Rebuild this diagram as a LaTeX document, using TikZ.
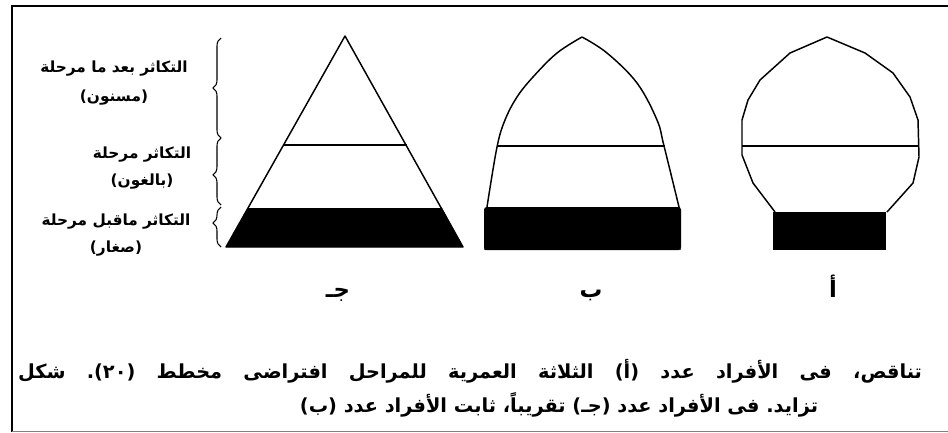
\documentclass[tikz,border=0pt]{standalone}
\usepackage{fontspec}
\usepackage{tikz}
\usetikzlibrary{positioning,decorations.pathreplacing}
\TeXXeTstate=1
\newfontfamily\arabicfont[Script=Arabic]{DejaVu Sans}

\begin{document}
\begin{tikzpicture}[x=0.75pt, y=-0.75pt,
    outline/.style={draw=black, line width=1.1pt, line join=round},
    band/.style={fill=black},
    stage/.style={font=\arabicfont\bfseries\fontsize{11.5}{20}\selectfont, align=center, inner sep=0pt},
    bracket/.style={decorate, decoration={brace, amplitude=6pt}, line width=0.8pt},
    tag/.style={font=\arabicfont\bfseries\fontsize{17}{19}\selectfont, inner sep=0pt, anchor=base},
    caption/.style={font=\arabicfont\bfseries\fontsize{14.5}{18}\selectfont\frenchspacing, inner sep=0pt}
]
    \useasboundingbox (0,0) rectangle (948,432);

    % Frame
    \draw[line width=2.2pt] (12,432) -- (12,6) -- (948,6);
    \draw[gray, line width=1pt] (12,431.5) -- (948,431.5);

    % Pyramid (jeem)
    \fill[band] (248,208) -- (442,208) -- (463,247) -- (226,247) -- cycle;
    \draw[outline] (345,36) -- (463,247) -- (226,247) -- cycle;
    \draw[outline, line width=0.8pt] (283,145) -- (407,145);

    % Bell (baa)
    \fill[band, rounded corners=2pt] (484,207) rectangle (681,250);
    \draw[outline] (485,250) -- (487,207)
        plot[smooth, tension=0.6] coordinates {(487,207) (497,147) (505,120) (517,97) (533,77) (557,53) (582,37)}
        plot[smooth, tension=0.6] coordinates {(582,37) (607,53) (637,83) (657,120) (664,146) (679,207)}
        -- (680,250);
    \draw[outline, line width=0.8pt] (498,146) -- (665,146);

    % Bulb (alif)
    \fill[band] (773,212) rectangle (886,250);
    \draw[outline] (775,212) -- (753,183) -- (742,155) -- (742,120) -- (748,100) -- (760,80)
        -- (790,53) -- (827,37) -- (865,53) -- (893,73) -- (910,97) -- (918,120)
        -- (919,157) -- (913,183) -- (887,212);
    \draw[outline, line width=0.8pt] (742,146) -- (919,146);

    % Brace ends
    \coordinate (b1top) at (221,38);
    \coordinate (b1bot) at (221,138);
    \coordinate (b2bot) at (221,205);
    \coordinate (b3bot) at (221,247);

    % Braces
    \draw[bracket] (b1bot) -- (b1top);
    \draw[bracket, decoration={aspect=0.45}] (b2bot) -- (b1bot);
    \draw[bracket, decoration={aspect=0.6}] (b3bot) -- ([yshift=-1.5pt]b2bot);

    % Stage labels (the print sets the words left to right)
    \node[stage] (older) at (114,83) {\beginL مرحلة ما بعد التكاثر\endL\\[2pt](مسنون)};
    \node[stage] (adult) at (142,168) {\beginL مرحلة التكاثر\endL\\(بالغون)};
    \node[stage] (young) at (116,235) {\beginL مرحلة ماقبل التكاثر\endL\\(صغار)};

    % Shape letters
    \node[tag] (c) at (338,297) {جـ};
    \node[tag] (b) at (591,297) {ب};
    \node[tag] (a) at (833,297) {أ};

    % Caption (first line spread to the full width)
    \node[caption] (cap1) at (470,371) {\makebox[678pt][s]{\beginL شكل (٢٠). مخطط افتراضى للمراحل العمرية الثلاثة (أ) عدد الأفراد فى تناقص،\endL}};
    \node[caption] (cap2) at (559,405) {\beginL (ب) عدد الأفراد ثابت تقريباً، (جـ) عدد الأفراد فى تزايد.\endL};
\end{tikzpicture}
\end{document}
